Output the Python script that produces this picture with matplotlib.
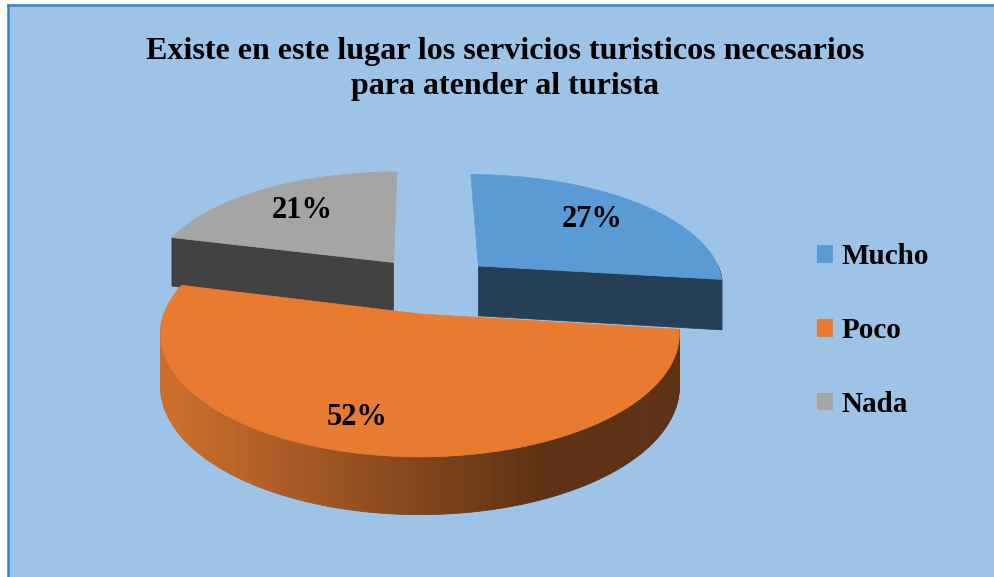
import numpy as np
import matplotlib.pyplot as plt
from matplotlib.patches import Polygon, Rectangle, Patch
from matplotlib.colors import to_rgb

plt.rcParams['font.family'] = ['Liberation Serif', 'DejaVu Serif']

# data
title = "Existe en este lugar los servicios turisticos necesarios\npara atender al turista"
labels = ["Mucho", "Poco", "Nada"]
values = [27, 52, 21]
top_colors = ["#5B9BD5", "#E97B31", "#A5A5A5"]
side_colors = ["#243F56", "#5E3214", "#424242"]

W, H = 995, 577
BG = "#9DC3E6"

# fake 3D perspective pie (screen pixels)
CX, CY = 420, 314      # where the Poco apex lands
SX, KY = 256, 120      # horizontal radius, vertical radius
P = 0.16               # perspective on the top face
H0, Q = 52, 0.10       # side height + its perspective
EXPLODE = 0.26
LABEL_R = [0.71, 0.79, 0.69]
LABEL_DA = [1, -5, 0]   # small angle nudges (deg) like Excel's placement

fig = plt.figure(figsize=(W / 100, H / 100), dpi=100)
fig.patch.set_facecolor("white")
ax = fig.add_axes([0, 0, 1, 1])
ax.set_xlim(0, W)
ax.set_ylim(H, 0)
ax.axis("off")

# chart area + left/top border
ax.add_patch(Rectangle((8, 5), W, H, facecolor=BG, edgecolor="none", zorder=0))
ax.plot([8, 8], [5, H], color="#2F86D0", lw=1.8, zorder=1)
ax.plot([8, W], [5, 5], color="#2F86D0", lw=1.8, zorder=1)

# slice angles, clockwise from 12 o'clock
fracs = np.array(values) / sum(values)
starts = 90 - 360 * np.concatenate([[0], np.cumsum(fracs)[:-1]])
ends = starts - 360 * fracs
mids = (starts + ends) / 2
offsets = [EXPLODE * np.array([np.cos(np.radians(m)), np.sin(np.radians(m))]) for m in mids]
origin = offsets[1]


def proj(X, Y, z=0.0):
    U = X - origin[0]
    V = Y - origin[1]
    f = 1 + P * V
    x = CX + SX * U / f
    y = CY - KY * V / f + z * H0 / (1 + Q * V)
    return x, y


def shade(x):
    # left side of the orange wall is lighter, right side dark brown
    t = np.clip((x - 175) / (540 - 175), 0, 1)
    a = np.array(to_rgb("#CC6E2D"))
    b = np.array(to_rgb(side_colors[1]))
    return a * (1 - t) + b * t


# far slices first
order = sorted(range(len(values)), key=lambda i: -offsets[i][1])
for k, i in enumerate(order):
    ox, oy = offsets[i]
    zb = 10 + k * 10
    angs = np.linspace(starts[i], ends[i], 200)
    ax_ = ox + np.cos(np.radians(angs))
    ay_ = oy + np.sin(np.radians(angs))

    # radial walls
    for edge, sgn in [(starts[i], 90), (ends[i], -90)]:
        nrm = np.radians(edge + sgn)
        if np.sin(nrm) < -0.05:
            ex = ox + np.cos(np.radians(edge))
            ey = oy + np.sin(np.radians(edge))
            pts = [proj(ox, oy, 0), proj(ex, ey, 0), proj(ex, ey, 1), proj(ox, oy, 1)]
            ax.add_patch(Polygon(pts, closed=True, facecolor=side_colors[i],
                                 edgecolor=side_colors[i], lw=0.5, zorder=zb))

    # outer wall (front half only)
    front = np.sin(np.radians(angs)) < 0
    for j in range(len(angs) - 1):
        if not (front[j] or front[j + 1]):
            continue
        p1 = proj(ax_[j], ay_[j], 0)
        p2 = proj(ax_[j + 1], ay_[j + 1], 0)
        p3 = proj(ax_[j + 1], ay_[j + 1], 1)
        p4 = proj(ax_[j], ay_[j], 1)
        c = shade((p1[0] + p2[0]) / 2) if i == 1 else side_colors[i]
        ax.add_patch(Polygon([p1, p2, p3, p4], closed=True, facecolor=c,
                             edgecolor=c, lw=0.6, zorder=zb + 1))

    # top face
    tx, ty = proj(ax_, ay_, 0)
    pts = [proj(ox, oy, 0)] + list(zip(tx, ty))
    ax.add_patch(Polygon(pts, closed=True, facecolor=top_colors[i],
                         edgecolor=top_colors[i], lw=0.5, zorder=zb + 2))

    # percentage label
    m = np.radians(mids[i] + LABEL_DA[i])
    lx, ly = proj(ox + LABEL_R[i] * np.cos(m), oy + LABEL_R[i] * np.sin(m), 0)
    ax.text(lx, ly, f"{values[i]}%", ha="center", va="center", fontsize=22,
            fontweight="bold", color="black", zorder=zb + 3)

ax.text(505, 69, title, ha="center", va="center", fontsize=23, fontweight="bold",
        linespacing=1.3, zorder=50)

handles = [Patch(facecolor=c, edgecolor="none") for c in top_colors]
leg = ax.legend(handles, labels, loc="center left", bbox_to_anchor=(0.821, 0.427),
                frameon=False, prop={"size": 21, "weight": "bold"},
                handlelength=0.55, handleheight=0.55, handletextpad=0.3,
                labelspacing=1.6, borderpad=0, borderaxespad=0)
leg.set_zorder(50)

fig.savefig("out.png", dpi=100, facecolor="white")
